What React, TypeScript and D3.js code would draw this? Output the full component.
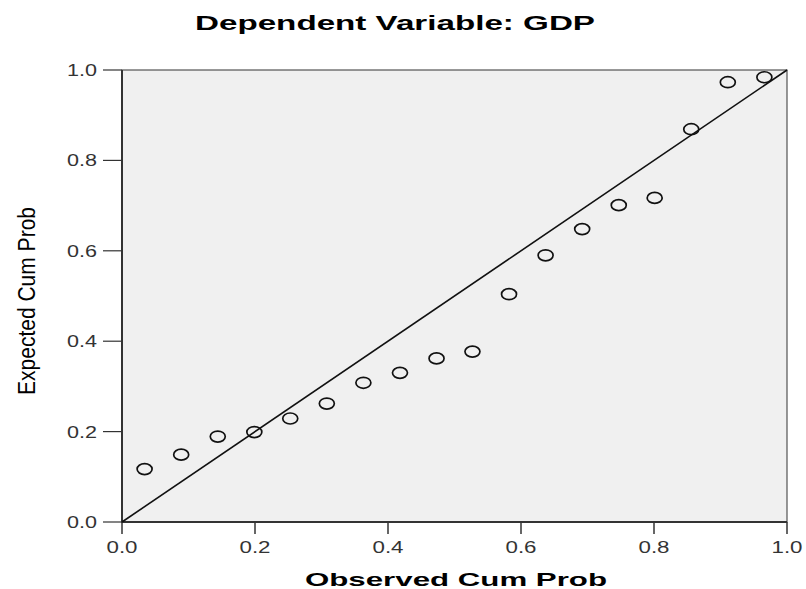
import React from 'react';
import * as d3 from 'd3';

const observed = [0.034, 0.089, 0.144, 0.199, 0.253, 0.308, 0.363, 0.418, 0.473, 0.527, 0.582, 0.637, 0.692, 0.747, 0.801, 0.856, 0.911, 0.966];
const expected = [0.117, 0.149, 0.189, 0.199, 0.229, 0.262, 0.308, 0.33, 0.362, 0.377, 0.504, 0.59, 0.648, 0.701, 0.717, 0.869, 0.973, 0.984];
const ticks = [0, 0.2, 0.4, 0.6, 0.8, 1.0];

const W = 806;
const H = 589;
const margin = { top: 70, right: 19, bottom: 67, left: 122 };

const App: React.FC = () => {
  const innerW = W - margin.left - margin.right;
  const innerH = H - margin.top - margin.bottom;

  const x = d3.scaleLinear().domain([0, 1]).range([0, innerW]);
  const y = d3.scaleLinear().domain([0, 1]).range([innerH, 0]);

  const pts = observed.map((o, i) => ({ o, e: expected[i] }));

  return (
    <svg width={W} height={H} style={{ position: 'absolute', left: 0, top: 0, background: '#fff' }}>
      <text x={395} y={30} textAnchor="middle" fontFamily="Liberation Sans, Arial, sans-serif" fontWeight="bold" fontSize={20} textLength={400} lengthAdjust="spacingAndGlyphs" fill="#000">
        Dependent Variable: GDP
      </text>

      <g transform={`translate(${margin.left},${margin.top})`}>
        <rect x={0} y={0} width={innerW} height={innerH} fill="#f0f0f0" stroke="#333" strokeWidth={1} />

        {/* y axis ticks */}
        {ticks.map(t => (
          <g key={`y${t}`}>
            <line x1={-19} x2={0} y1={y(t)} y2={y(t)} stroke="#333" strokeWidth={1.2} />
            <text x={-25} y={y(t) + 6} textAnchor="end" fontFamily="Liberation Sans, Arial, sans-serif" fontSize={17} fill="#333" textLength={30} lengthAdjust="spacingAndGlyphs">
              {t.toFixed(1)}
            </text>
          </g>
        ))}

        {/* x axis ticks */}
        {ticks.map(t => (
          <g key={`x${t}`}>
            <line x1={x(t)} x2={x(t)} y1={innerH} y2={innerH + 12} stroke="#333" strokeWidth={1.5} />
            <text x={x(t)} y={innerH + 31} textAnchor="middle" fontFamily="Liberation Sans, Arial, sans-serif" fontSize={17} fill="#333" textLength={31} lengthAdjust="spacingAndGlyphs">
              {t.toFixed(1)}
            </text>
          </g>
        ))}

        {/* axis lines */}
        <line x1={0} x2={0} y1={0} y2={innerH + 1} stroke="#333" strokeWidth={2} />
        <line x1={0} x2={innerW} y1={innerH} y2={innerH} stroke="#333" strokeWidth={2} />

        {/* reference diagonal */}
        <line x1={x(0)} y1={y(0)} x2={x(1)} y2={y(1)} stroke="#111" strokeWidth={1.6} />

        {pts.map((p, i) => (
          <ellipse key={i} cx={x(p.o)} cy={y(p.e)} rx={7.5} ry={5.5} fill="none" stroke="#111" strokeWidth={1.7} />
        ))}
      </g>

      <text transform="translate(35,301) rotate(-90)" textAnchor="middle" fontFamily="Liberation Sans, Arial, sans-serif" fontSize={23} fill="#000" textLength={188} lengthAdjust="spacingAndGlyphs">
        Expected Cum Prob
      </text>
      <text x={456} y={586} textAnchor="middle" fontFamily="Liberation Sans, Arial, sans-serif" fontWeight="bold" fontSize={19} fill="#000" textLength={302} lengthAdjust="spacingAndGlyphs">
        Observed Cum Prob
      </text>
    </svg>
  );
};

export default App;
